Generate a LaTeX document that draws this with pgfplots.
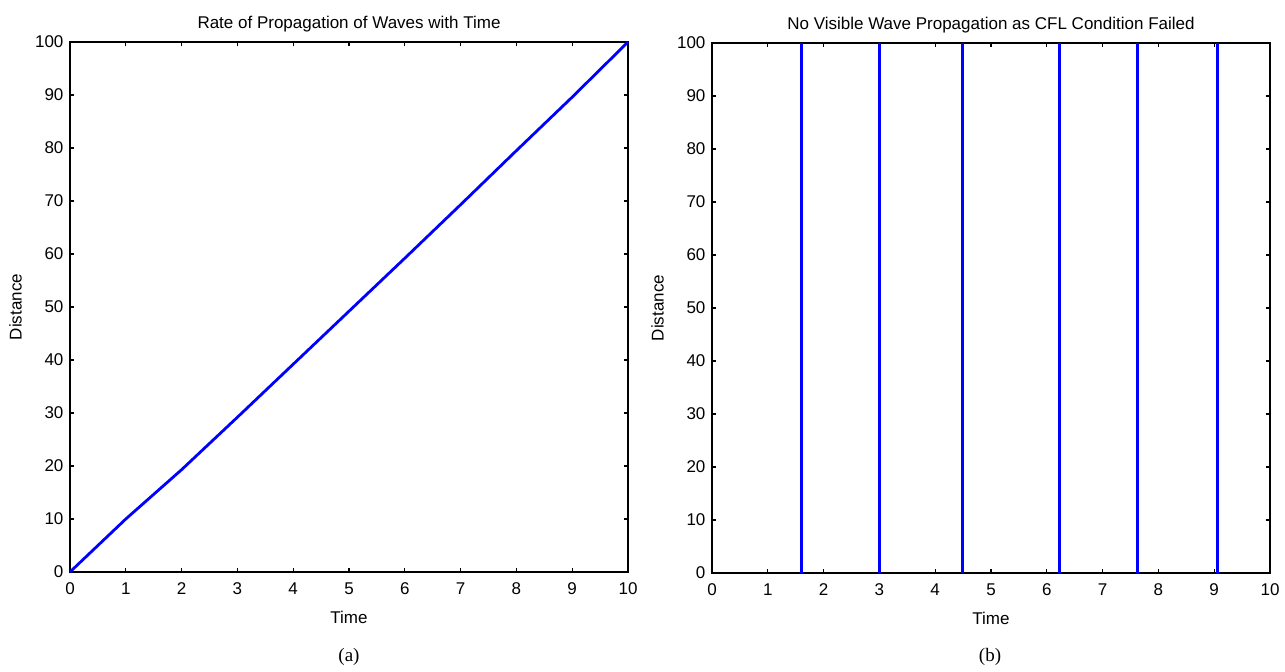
\documentclass[border=0pt]{standalone}
\usepackage{pgfplots}
\pgfplotsset{compat=1.18}
\usepackage{fontspec}
\setmainfont{Liberation Sans}
\newfontfamily\seriffont{Liberation Serif}
\definecolor{mblue}{RGB}{0,0,255}
\pgfplotsset{
  mstyle/.style={
    scale only axis, width=279pt, height=265pt,
    xmin=0, xmax=10, ymin=0, ymax=100,
    xtick={0,1,...,10}, ytick={0,10,...,100},
    tick align=inside, major tick length=2pt,
    axis line style={line width=0.9pt}, tick style={line width=0.6pt, black},
    every axis/.append style={line width=0.9pt},
    /pgf/number format/assume math mode=true,
    ticklabel style={font=\fontsize{8.5pt}{10pt}\selectfont},
    label style={font=\fontsize{8.5pt}{10pt}\selectfont},
    title style={font=\fontsize{8.5pt}{10pt}\selectfont, yshift=-5pt},
    xticklabel style={yshift=-1.5pt},
    yticklabel style={xshift=0.5pt},
    xlabel style={yshift=-1pt},
    ylabel style={yshift=-0.5pt},
    clip=false,
  }
}
\begin{document}
\begin{tikzpicture}[x=1pt,y=1pt]
\useasboundingbox (0,0) rectangle (642.5,336);
\begin{axis}[mstyle, at={(35pt,50pt)}, anchor=south west,
  title={Rate of Propagation of Waves with Time}, xlabel={Time}, ylabel={Distance}]
\addplot[mblue, line width=1.4pt] coordinates {(0,0) (1,10) (2,19.3) (3,29.2) (4,39.2) (5,49.2) (6,59.2) (7,69.3) (8,79.5) (9,89.6) (10,100)};
\end{axis}
\begin{axis}[mstyle, at={(356pt,49.5pt)}, anchor=south west,
  title={No Visible Wave Propagation as CFL Condition Failed}, xlabel={Time}, ylabel={Distance}]
\addplot[mblue, line width=1.4pt] coordinates {(1.6,0) (1.6,100)};
\addplot[mblue, line width=1.4pt] coordinates {(3.0,0) (3.0,100)};
\addplot[mblue, line width=1.4pt] coordinates {(4.49,0) (4.49,100)};
\addplot[mblue, line width=1.4pt] coordinates {(6.23,0) (6.23,100)};
\addplot[mblue, line width=1.4pt] coordinates {(7.63,0) (7.63,100)};
\addplot[mblue, line width=1.4pt] coordinates {(9.06,0) (9.06,100)};
\end{axis}
\node[font=\seriffont\fontsize{9.5pt}{11pt}\selectfont] at (174.5,7.5) {(a)};
\node[font=\seriffont\fontsize{9.5pt}{11pt}\selectfont] at (495,7.5) {(b)};
\end{tikzpicture}
\end{document}
